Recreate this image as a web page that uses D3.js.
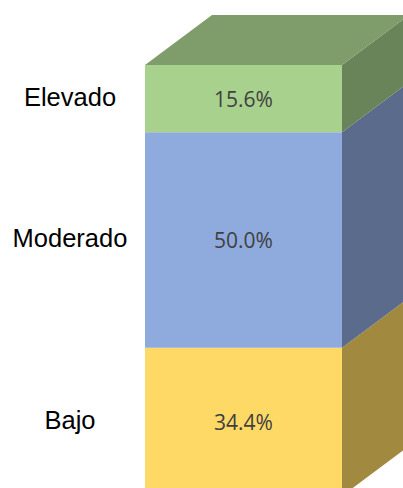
<!DOCTYPE html>
<html>
<head>
<meta charset="utf-8">
<script src="https://cdn.jsdelivr.net/npm/d3@7"></script>
<style>
  html, body { margin: 0; padding: 0; background: #fff; }
  svg { display: block; }
</style>
</head>
<body>
<svg id="chart"></svg>
<script>
// stacked from bottom to top
var categories = ["Bajo", "Moderado", "Elevado"];
var values = [34.4, 50.0, 15.6];
var valueLabels = ["34.4%", "50.0%", "15.6%"];
var colors = ["#FFD966", "#8FAADC", "#A9D18E"];

var width = 403;
var height = 488;

// 3d depth of the box
var depthX = 67;
var depthY = 50;

var svg = d3.select("#chart")
  .attr("width", width)
  .attr("height", height);

var x = d3.scaleBand()
  .domain(["total"])
  .range([145, 342])
  .padding(0);

var y = d3.scaleLinear()
  .domain([0, 100])
  .range([496, 65]);

// cumulative start / end of each segment
var segments = [];
var acc = 0;
values.forEach(function(v, i) {
  segments.push({
    name: categories[i],
    label: valueLabels[i],
    color: colors[i],
    y0: acc,
    y1: acc + v
  });
  acc += v;
});

function shade(c, k) {
  var rgb = d3.rgb(c);
  return d3.rgb(rgb.r * k, rgb.g * k, rgb.b * k).toString();
}

var x0 = x("total");
var x1 = x0 + x.bandwidth();

var g = svg.append("g");

// side faces
g.selectAll(".side")
  .data(segments)
  .enter().append("path")
  .attr("class", "side")
  .attr("fill", function(d) { return shade(d.color, 0.63); })
  .attr("d", function(d) {
    var top = y(d.y1), bot = y(d.y0);
    return "M" + x1 + "," + bot +
      "L" + (x1 + depthX) + "," + (bot - depthY) +
      "L" + (x1 + depthX) + "," + (top - depthY) +
      "L" + x1 + "," + top + "Z";
  });

// top face of the last segment
var last = segments[segments.length - 1];
g.append("path")
  .attr("class", "top")
  .attr("fill", shade(last.color, 0.75))
  .attr("d", function() {
    var top = y(last.y1);
    return "M" + x0 + "," + top +
      "L" + (x0 + depthX) + "," + (top - depthY) +
      "L" + (x1 + depthX) + "," + (top - depthY) +
      "L" + x1 + "," + top + "Z";
  });

// front faces
g.selectAll(".front")
  .data(segments)
  .enter().append("rect")
  .attr("class", "front")
  .attr("x", x0)
  .attr("width", x.bandwidth())
  .attr("y", function(d) { return y(d.y1); })
  .attr("height", function(d) { return y(d.y0) - y(d.y1); })
  .attr("fill", function(d) { return d.color; });

// value labels
g.selectAll(".value")
  .data(segments)
  .enter().append("text")
  .attr("class", "value")
  .attr("x", (x0 + x1) / 2)
  .attr("y", function(d) { return (y(d.y0) + y(d.y1)) / 2 + 8.5; })
  .attr("text-anchor", "middle")
  .attr("font-family", "'Open Sans', 'Noto Sans', sans-serif")
  .attr("font-size", "21px")
  .attr("fill", "#404040")
  .text(function(d) { return d.label; });

// category labels
g.selectAll(".cat")
  .data(segments)
  .enter().append("text")
  .attr("class", "cat")
  .attr("x", 70)
  .attr("y", function(d) { return (y(d.y0) + y(d.y1)) / 2 + 7.5; })
  .attr("text-anchor", "middle")
  .attr("font-family", "'Liberation Sans', Arial, sans-serif")
  .attr("font-size", "25.5px")
  .attr("fill", "#000")
  .text(function(d) { return d.name; });
</script>
</body>
</html>
